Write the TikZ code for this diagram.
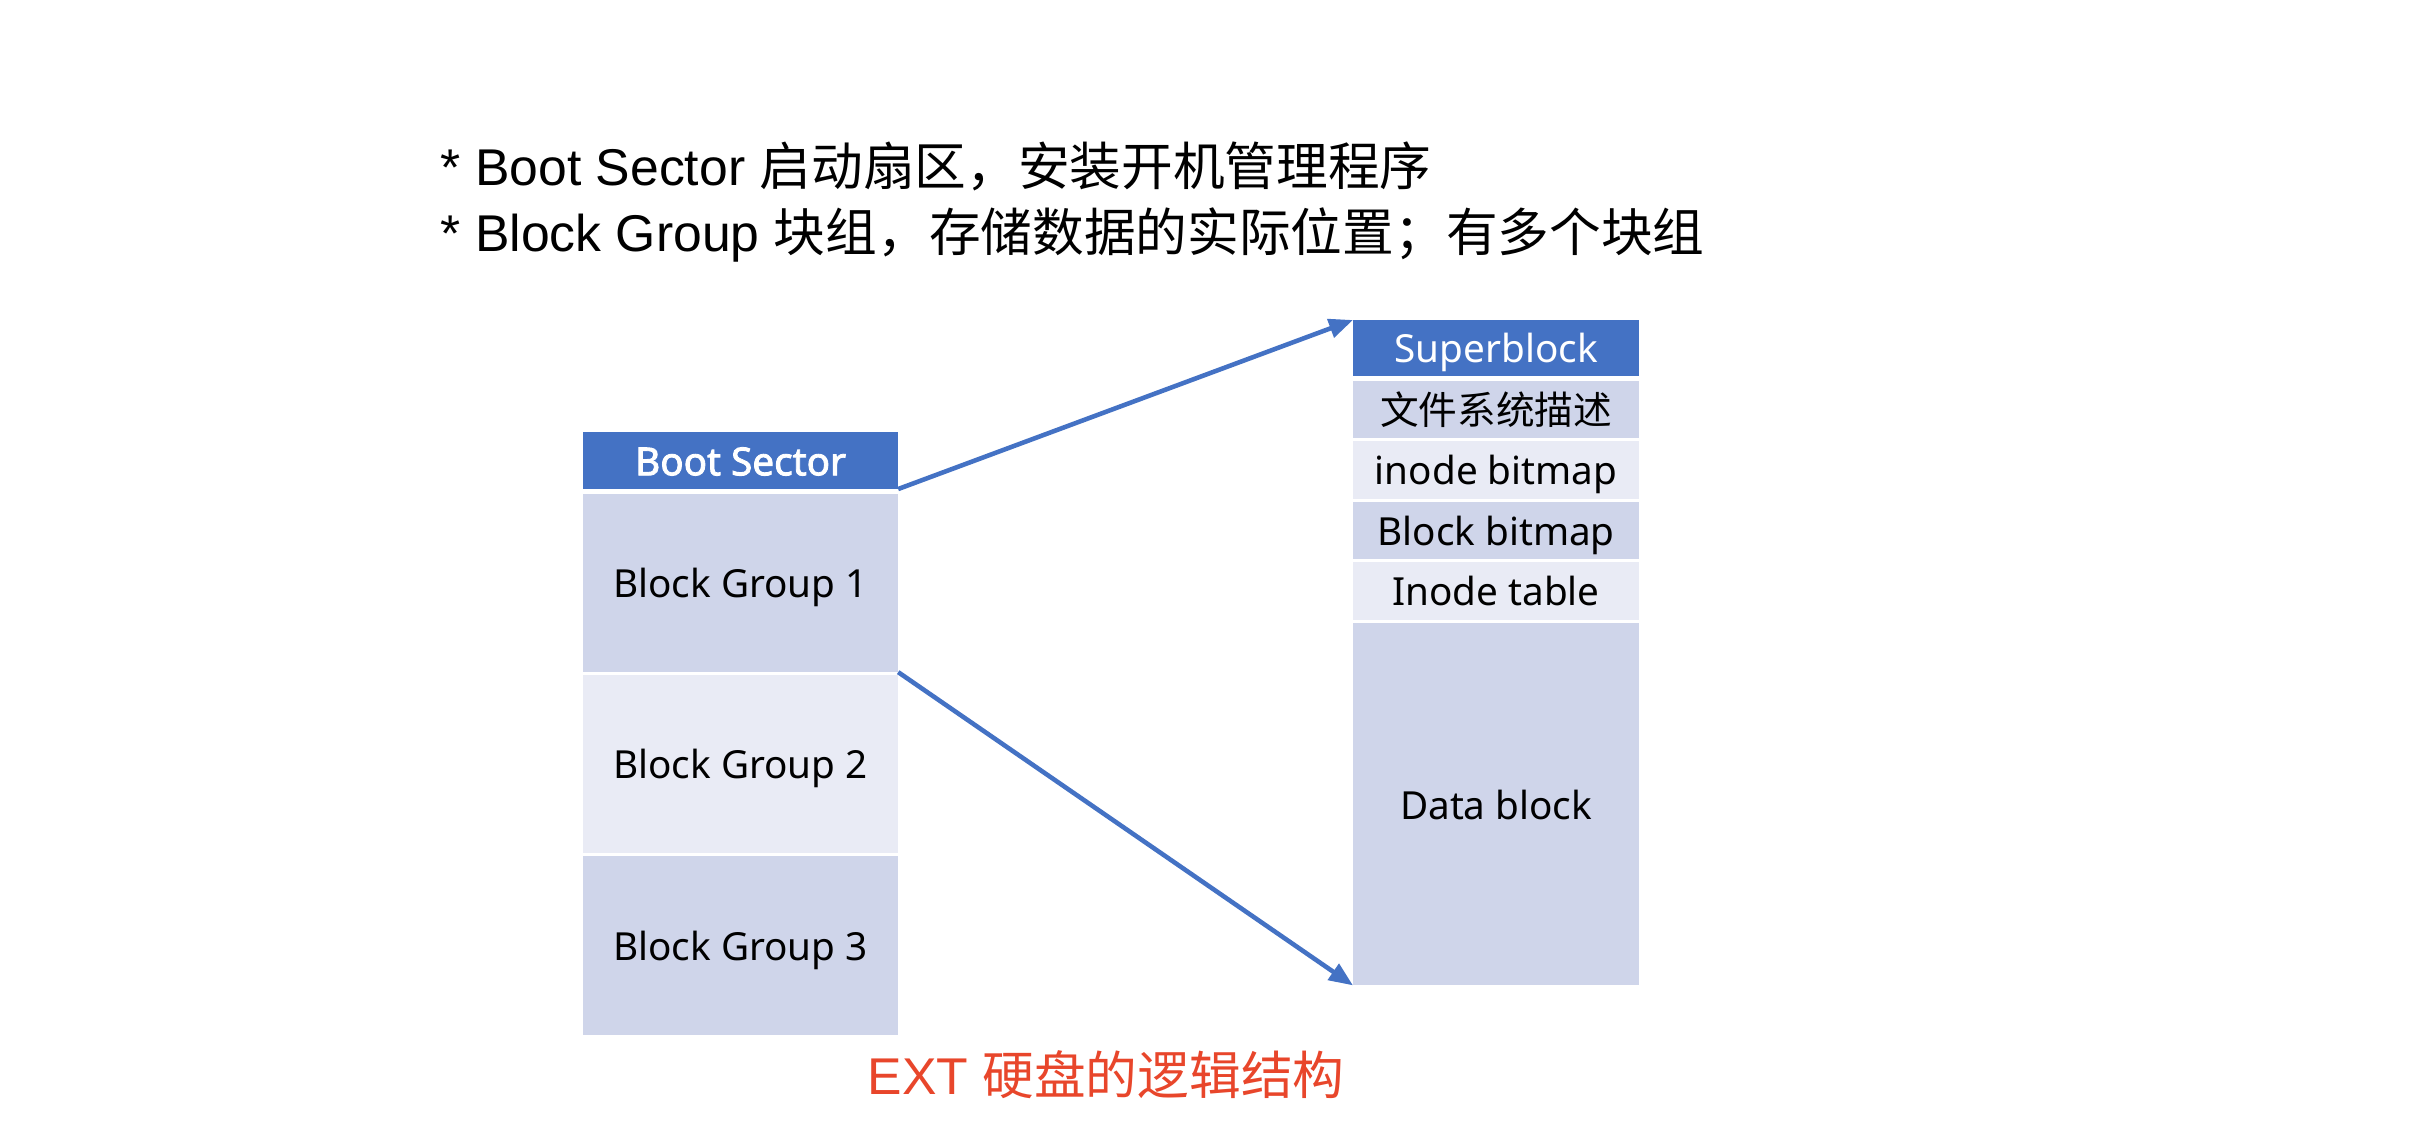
\documentclass[tikz,border=0pt]{standalone}
\usepackage{fontspec}
\setmainfont{Noto Sans}[AutoFakeBold=2.2]
\newfontfamily\cjk{Noto Sans CJK SC}
\newfontfamily\arial{Liberation Sans}
\usepackage{xcolor}
\definecolor{hdrblue}{HTML}{4472C4}
\definecolor{rowdark}{HTML}{CFD5EA}
\definecolor{rowlight}{HTML}{E9EBF5}
\definecolor{capred}{HTML}{E8462B}
\usetikzlibrary{arrows.meta,positioning}

\tikzset{
  cell/.style={rectangle, inner sep=0pt, outer sep=0pt, text=black,
               text height=11pt, text depth=2.6pt, font=\fontsize{11}{13}\selectfont},
  hdrcell/.style={cell, fill=hdrblue, text=white},
  darkcell/.style={cell, fill=rowdark},
  lightcell/.style={cell, fill=rowlight},
  lefttab/.style={minimum width=3.15cm},
  righttab/.style={minimum width=2.86cm},
  link/.style={-{Triangle[length=0.24cm, width=0.19cm]}, line width=1.3pt, hdrblue}
}

\begin{document}
\begin{tikzpicture}[x=0.01cm, y=-0.01cm]
    \useasboundingbox (0,0) rectangle (2436,1125);

    % Notes at top
    \node[anchor=west, inner sep=0pt, font=\fontsize{14.7}{17}\selectfont]
          (lineboot) at (440,166) {{\arial * Boot Sector }{\cjk 启动扇区，安装开机管理程序}};
    \node[anchor=west, inner sep=0pt, font=\fontsize{14.7}{17}\selectfont]
          (linegroup) at (440,235) {{\arial * Block Group }{\cjk 块组，存储数据的实际位置；有多个块组}};

    % Disk layout — left
    \node[hdrcell, lefttab, minimum height=0.57cm, font=\fontsize{11}{13}\selectfont\bfseries,
          anchor=north west] (boot) at (583,432) {Boot Sector};
    \node[darkcell, lefttab, minimum height=1.78cm, below=0.05cm of boot] (bgone) {Block Group 1};
    \node[lightcell, lefttab, minimum height=1.78cm, below=0.03cm of bgone] (bgtwo) {Block Group 2};
    \node[darkcell, lefttab, minimum height=1.79cm, below=0.03cm of bgtwo] (bgthree) {Block Group 3};

    % Block group layout — right
    \node[hdrcell, righttab, minimum height=0.56cm, anchor=north west] (super) at (1353,320) {Superblock};
    \node[darkcell, righttab, minimum height=0.57cm, below=0.05cm of super] (fsdesc) {\cjk 文件系统描述};
    \node[lightcell, righttab, minimum height=0.58cm, below=0.03cm of fsdesc] (ibitmap) {inode bitmap};
    \node[darkcell, righttab, minimum height=0.57cm, below=0.03cm of ibitmap] (bbitmap) {Block bitmap};
    \node[lightcell, righttab, minimum height=0.58cm, below=0.03cm of bbitmap] (itable) {Inode table};
    \node[darkcell, righttab, minimum height=3.62cm, below=0.03cm of itable] (datablk) {Data block};

    % Caption
    \node[inner sep=0pt, text=capred, font=\fontsize{14.7}{17}\selectfont]
          (caption) at (1106,1075) {{\arial EXT }{\cjk 硬盘的逻辑结构}};

    % Arrows
    \draw[link] (boot.south east) -- (super.north west);
    \draw[link] (bgone.south east) -- (datablk.south west);
\end{tikzpicture}
\end{document}
